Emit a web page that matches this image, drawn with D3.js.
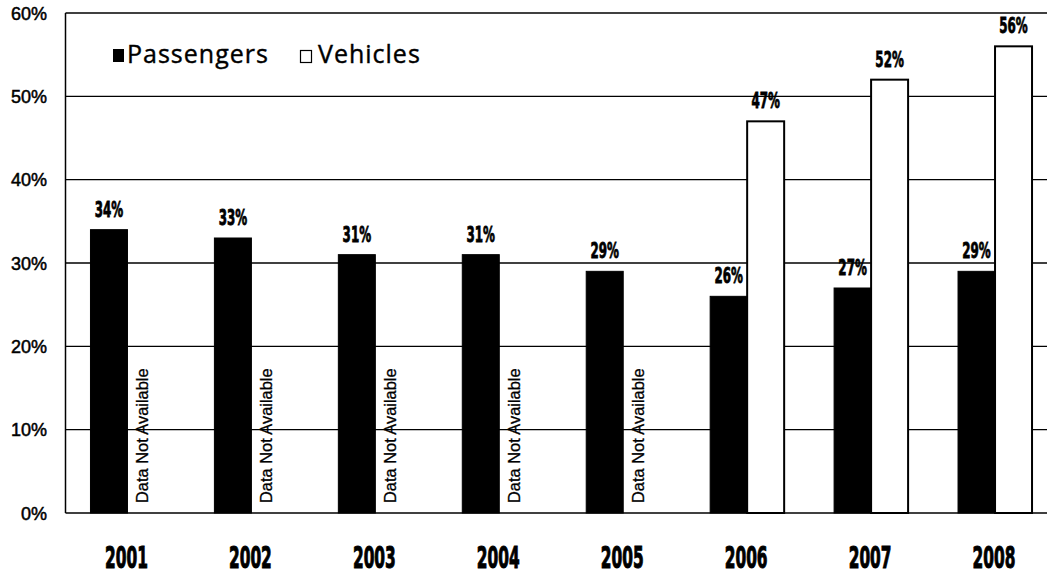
<!DOCTYPE html>
<html>
<head>
<meta charset="utf-8">
<script src="https://cdn.jsdelivr.net/npm/d3@7"></script>
<style>
  html, body { margin: 0; padding: 0; background: #fff; }
  svg { display: block; }
</style>
</head>
<body>
<svg id="chart" width="1047" height="575"></svg>
<script>
const years = ["2001", "2002", "2003", "2004", "2005", "2006", "2007", "2008"];
const passengers = [34, 33, 31, 31, 29, 26, 27, 29];
const vehicles = [null, null, null, null, null, 47, 52, 56];
const seriesNames = ["Passengers", "Vehicles"];
const yTicks = [0, 10, 20, 30, 40, 50, 60];
const naText = "Data Not Available";

(function () {
const svg = d3.select("#chart");
const mLeft = 65.5, mRight = 1057, mTop = 13, mBottom = 513;

const x0 = d3.scaleBand().domain(years).range([mLeft, mRight]).paddingInner(0).paddingOuter(0);
const x1 = d3.scaleBand().domain(seriesNames).range([0, x0.bandwidth()]).paddingInner(0).paddingOuter(0.675);
const y = d3.scaleLinear().domain([0, 60]).range([mBottom, mTop]);

const condensed = "'Liberation Sans Narrow', 'DejaVu Sans Condensed', 'Arial Narrow', sans-serif";

// gridlines
svg.append("g").selectAll("line").data(yTicks.filter(d => d > 0)).join("line")
  .attr("x1", mLeft).attr("x2", 1047)
  .attr("y1", d => y(d)).attr("y2", d => y(d))
  .attr("stroke", "#000").attr("stroke-width", 1.3);

// y axis labels
svg.append("g").selectAll("text").data(yTicks).join("text")
  .attr("x", 47).attr("y", d => y(d) + 2)
  .attr("text-anchor", "end").attr("dominant-baseline", "middle")
  .attr("font-family", "'Liberation Sans', Arial, sans-serif")
  .attr("font-size", 18).attr("fill", "#000")
  .attr("stroke", "#000").attr("stroke-width", 0.5)
  .text(d => d + "%");

const rows = years.map((yr, i) => ({ year: yr, p: passengers[i], v: vehicles[i] }));
const g = svg.append("g").selectAll("g").data(rows).join("g")
  .attr("transform", d => `translate(${x0(d.year)},0)`);

// passenger bars
g.append("rect")
  .attr("x", x1("Passengers")).attr("width", x1.bandwidth())
  .attr("y", d => y(d.p)).attr("height", d => y(0) - y(d.p))
  .attr("fill", "#000").attr("stroke", "#000").attr("stroke-width", 1);

// vehicle bars
g.filter(d => d.v != null).append("rect")
  .attr("x", x1("Vehicles")).attr("width", x1.bandwidth())
  .attr("y", d => y(d.v)).attr("height", d => y(0) - y(d.v))
  .attr("fill", "#fff").attr("stroke", "#000").attr("stroke-width", 2);

// Data not available
g.filter(d => d.v == null).append("text")
  .attr("transform", d => `translate(${x1("Vehicles") + x1.bandwidth() / 2 - 2},${mBottom - 10}) rotate(-90)`)
  .attr("dominant-baseline", "middle")
  .attr("font-family", "'Liberation Sans', Arial, sans-serif")
  .attr("font-size", 16.4).attr("fill", "#000")
  .attr("stroke", "#000").attr("stroke-width", 0.3)
  .text(naText);

// value labels
function condLabel(sel, cx, by, txt, size, sx) {
  sel.append("text")
    .attr("transform", `translate(${cx},${by}) scale(${sx},1)`)
    .attr("text-anchor", "middle")
    .attr("font-family", condensed).attr("font-weight", "bold")
    .attr("font-size", size).attr("fill", "#000")
    .attr("stroke", "#000").attr("stroke-width", 0.8)
    .text(txt);
}
g.each(function (d) {
  const s = d3.select(this);
  condLabel(s, x1("Passengers") + x1.bandwidth() / 2, y(d.p) - 13, d.p + "%", 21, 0.63);
  if (d.v != null) condLabel(s, x1("Vehicles") + x1.bandwidth() / 2, y(d.v) - 13, d.v + "%", 21, 0.63);
});

// year labels
svg.append("g").selectAll("text").data(years).join("text")
  .attr("transform", d => `translate(${x0(d) + x0.bandwidth() / 2 - 1},568) scale(0.58,1)`)
  .attr("text-anchor", "middle")
  .attr("font-family", condensed).attr("font-weight", "bold")
  .attr("font-size", 29.5).attr("fill", "#000")
  .attr("stroke", "#000").attr("stroke-width", 1)
  .text(d => d);

// axes lines
svg.append("line").attr("x1", mLeft).attr("x2", mLeft).attr("y1", mTop).attr("y2", mBottom)
  .attr("stroke", "#000").attr("stroke-width", 1.5);
svg.append("line").attr("x1", mLeft).attr("x2", 1047).attr("y1", mBottom).attr("y2", mBottom)
  .attr("stroke", "#000").attr("stroke-width", 1.5);

// legend
const leg = svg.append("g");
leg.append("rect").attr("x", 113).attr("y", 49).attr("width", 11).attr("height", 13)
  .attr("fill", "#000");
leg.append("text").attr("x", 127).attr("y", 63)
  .attr("font-family", "'Open Sans', sans-serif").attr("font-size", 25).attr("fill", "#000")
  .attr("letter-spacing", 1).attr("stroke", "#000").attr("stroke-width", 0.4)
  .text(seriesNames[0]);
leg.append("rect").attr("x", 300.5).attr("y", 50.5).attr("width", 11).attr("height", 12)
  .attr("fill", "#fff").attr("stroke", "#000").attr("stroke-width", 1.2);
leg.append("text").attr("x", 318).attr("y", 63)
  .attr("font-family", "'Open Sans', sans-serif").attr("font-size", 25).attr("fill", "#000")
  .attr("letter-spacing", 1).attr("stroke", "#000").attr("stroke-width", 0.4)
  .text(seriesNames[1]);
})();
</script>
</body>
</html>
